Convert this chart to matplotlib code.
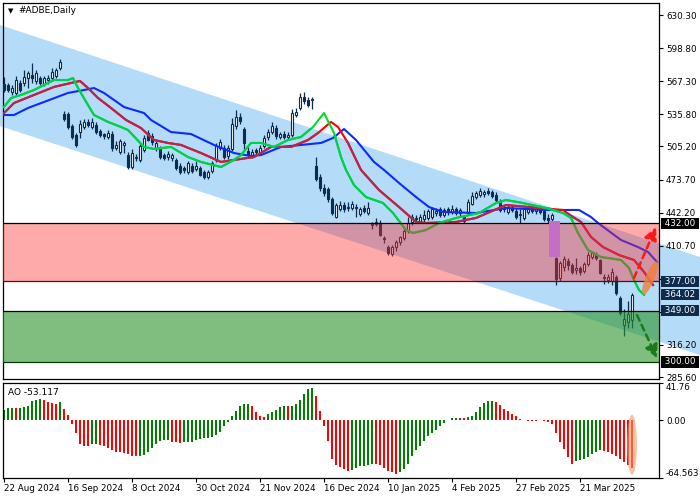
import matplotlib
matplotlib.use('Agg')
import matplotlib.pyplot as plt
import matplotlib.patches as mpatches
import matplotlib.transforms as mtransforms
import numpy as np

plt.rcParams['font.family'] = ['DejaVu Sans']

# daily candles, 22 Aug 2024 .. 9 Apr 2025
opens = [565, 564, 557, 556, 566, 566, 570, 573, 567, 570, 565, 568, 570, 572, 580,
         536, 536, 525, 516, 519, 524, 528, 524, 526, 520, 517, 514, 517, 504, 500,
         507, 497, 486, 494, 492, 502, 518, 515, 504, 504, 497, 495, 494, 492, 487,
         485, 481, 487, 484, 485, 481, 476, 482, 492, 504, 504, 496, 503, 525, 533,
         522, 501, 497, 502, 499, 506, 514, 519, 523, 514, 517, 514, 516, 535, 542,
         552, 549, 549, 487, 476, 466, 465, 455, 438, 446, 449, 447, 447, 448, 441,
         447, 442, 431, 433, 432, 418, 409, 403, 409, 414, 418, 425, 433, 436, 434,
         436, 437, 438, 442, 446, 440, 446, 443, 446, 442, 438, 442, 450, 457, 459,
         460, 463, 462, 459, 453, 446, 443, 447, 444, 440, 437, 443, 447, 444, 446,
         444, 437, 436, 399, 380, 390, 396, 392, 388, 389, 387, 393, 400, 403, 397,
         381, 378, 377, 381, 361, 335, 338, 340]
highs = [571, 566, 564, 572, 568, 578, 577, 585, 578, 572, 572, 573, 580, 580, 588,
         539, 538, 527, 518, 530, 531, 531, 532, 528, 522, 518, 521, 520, 510, 512,
         510, 500, 503, 498, 508, 516, 521, 518, 510, 506, 499, 501, 499, 494, 489,
         487, 491, 489, 491, 487, 483, 483, 491, 508, 512, 507, 507, 532, 540, 537,
         524, 505, 503, 504, 507, 516, 522, 528, 526, 519, 520, 519, 541, 542, 556,
         557, 552, 552, 495, 479, 469, 467, 457, 451, 453, 452, 452, 453, 450, 448,
         449, 452, 433, 437, 435, 420, 411, 411, 416, 420, 428, 438, 441, 440, 441,
         445, 446, 448, 447, 448, 447, 448, 449, 448, 447, 440, 455, 462, 463, 466,
         464, 466, 464, 462, 455, 449, 449, 449, 447, 446, 448, 449, 450, 448, 449,
         447, 441, 442, 400, 396, 401, 399, 394, 399, 391, 395, 405, 406, 405, 398,
         384, 384, 389, 383, 363, 350, 358, 366]
lows = [557, 557, 554, 554, 557, 563, 561, 566, 565, 564, 563, 565, 568, 570, 578,
        529, 522, 512, 505, 513, 522, 524, 522, 517, 514, 512, 512, 501, 502, 498,
        499, 484, 484, 491, 490, 500, 510, 507, 501, 493, 492, 492, 491, 483, 479,
        480, 479, 480, 482, 477, 474, 474, 480, 490, 502, 493, 493, 501, 522, 527,
        502, 495, 494, 497, 497, 504, 511, 517, 512, 512, 512, 512, 514, 533, 540,
        546, 543, 541, 472, 463, 458, 452, 440, 437, 444, 443, 444, 445, 438, 439,
        442, 440, 427, 429, 420, 413, 402, 401, 406, 411, 416, 423, 430, 432, 432,
        433, 435, 436, 439, 438, 438, 440, 441, 440, 439, 432, 440, 449, 455, 457,
        457, 459, 456, 452, 443, 443, 441, 443, 436, 432, 435, 441, 442, 441, 441,
        434, 432, 434, 373, 377, 387, 388, 384, 384, 383, 385, 391, 398, 397, 384,
        374, 375, 373, 364, 345, 325, 332, 332]
closes = [559, 559, 561, 568, 559, 571, 575, 570, 575, 566, 570, 570, 576, 578, 586,
          531, 524, 514, 507, 527, 528, 526, 528, 519, 516, 515, 518, 504, 507, 510,
          508, 486, 499, 495, 506, 513, 511, 509, 508, 495, 494, 498, 497, 485, 481,
          483, 489, 482, 487, 478, 476, 481, 489, 506, 509, 495, 504, 527, 533, 529,
          508, 498, 500, 500, 504, 513, 519, 525, 515, 517, 514, 516, 537, 538, 552,
          548, 545, 550, 474, 466, 461, 455, 442, 449, 449, 446, 448, 450, 447, 446,
          444, 447, 430, 431, 421, 417, 404, 409, 414, 419, 425, 432, 438, 437, 438,
          440, 444, 446, 444, 440, 445, 443, 446, 442, 445, 434, 452, 458, 461, 463,
          462, 461, 458, 454, 445, 447, 447, 445, 438, 441, 446, 447, 444, 446, 443,
          436, 435, 440, 379, 394, 398, 392, 386, 389, 386, 393, 402, 404, 399, 385,
          380, 381, 386, 366, 347, 341, 346, 364]

# Alligator lines (bar position, price)
jaw_x = [0, 2.5, 6, 10, 16, 20, 22.5, 25, 27.5, 30, 35, 36.75, 41.75, 46.75, 52.5, 57.5, 61.75, 64.25,
         69.25, 74.25, 79.25, 82.25, 85, 88, 92.5, 95, 98.75, 103, 106.25, 109.75, 118, 125.5, 135.5,
         143.75, 146.75, 148.5, 154.25, 158.5, 161, 163.25]
jaw_p = [535.1, 535.1, 541.8, 547.5, 556.1, 558.9, 560.8, 556.1, 549.4, 542.7, 537.0, 530.4, 518.9,
         517.0, 506.6, 498.9, 496.1, 497.0, 504.7, 506.6, 508.5, 513.2, 521.8, 511.3, 490.4, 482.8,
         470.4, 457.0, 447.5, 442.8, 441.8, 446.6, 444.7, 444.7, 438.0, 432.3, 416.1, 409.4, 404.7, 395.2]
teeth_x = [0, 2.5, 7.5, 12.5, 16.75, 19, 21, 23.5, 26.75, 30.5, 34.25, 37.5, 41, 44.25, 49.25, 54.25,
           57.5, 62.5, 66.75, 71.75, 76, 78.5, 81.75, 83.5, 86, 89.25, 93.75, 98.75, 103, 105.5, 113,
           118, 125.5, 131.25, 139.75, 142.25, 144.25, 146.75, 149.75, 153.75, 157.5, 160, 162.25]
teeth_p = [537.0, 546.5, 554.2, 561.8, 565.6, 567.5, 560.8, 551.3, 541.8, 530.4, 522.7, 511.3, 508.5,
           506.6, 498.9, 490.4, 492.3, 495.1, 504.7, 504.7, 511.3, 518.0, 528.5, 523.7, 508.5, 482.8,
           463.7, 447.5, 433.3, 432.3, 433.3, 437.1, 449.4, 447.5, 444.7, 438.0, 433.3, 419.0, 409.4,
           401.8, 397.1, 385.7, 373.3]
lips_x = [0, 1.75, 4.25, 7.5, 10, 12.5, 16, 17.25, 18.5, 21, 22.5, 26, 29.25, 31, 35, 37.5, 41.75, 46,
          49.25, 54.25, 57.5, 59.25, 61.75, 64.25, 67.5, 71, 74.25, 77.25, 80, 82.5, 84.25, 85.5, 87.5,
          90.5, 94.75, 97.25, 100.5, 102.25, 105.5, 108.75, 113, 118.75, 123, 125.5, 129.75, 135.5,
          139.75, 141.75, 143.5, 146, 149.25, 154.25, 156.25, 157.5, 158.75, 160]
lips_p = [542.7, 551.3, 554.2, 558.9, 563.7, 568.4, 568.4, 570.3, 560.8, 544.6, 535.1, 528.5, 523.7,
          520.8, 504.7, 502.8, 504.7, 495.1, 490.4, 485.6, 492.3, 497.0, 508.5, 508.5, 504.7, 511.3,
          514.2, 523.7, 537.0, 518.0, 495.1, 482.8, 468.4, 457.0, 451.3, 441.8, 425.6, 422.8, 425.6,
          432.3, 437.1, 441.8, 451.3, 454.2, 451.3, 446.6, 441.8, 437.1, 422.8, 406.6, 399.9, 397.1,
          389.5, 378.0, 368.5, 364.0]

# Awesome Oscillator
ao_vals = [11.9, 13.8, 13.9, 13.7, 13.8, 14.9, 16.4, 22.0, 23.1, 23.9, 22.4, 20.5, 19.4, 18.3, 20.1,
           13.1, 6.3, -4.1, -14.2, -26.1, -28.3, -29.1, -26.9, -26.1, -27.2, -28.3, -30.6, -32.8, -35.1, -35.4,
           -36.2, -38.0, -40.3, -40.4, -40.2, -38.8, -35.8, -30.6, -26.1, -23.5, -22.4, -22.3, -23.9, -24.6, -25.4,
           -24.6, -24.5, -24.4, -21.6, -20.5, -20.1, -20.0, -19.0, -16.0, -12.7, -6.7, -2.2, 5.2, 10.8, 16.4,
           18.3, 18.4, 16.4, 9.7, 4.5, 4.1, 7.1, 9.7, 11.9, 14.5, 16.4, 15.7, 16.5, 18.7, 23.1,
           29.5, 35.1, 36.2, 26.9, 10.8, -6.7, -23.5, -42.9, -49.6, -52.6, -54.5, -56.3, -55.2, -53.3, -51.5,
           -51.4, -50.4, -48.9, -49.0, -49.6, -53.3, -57.1, -57.8, -60.1, -58.2, -54.5, -48.9, -39.5, -33.6, -28.3,
           -23.5, -17.9, -14.2, -11.2, -6.7, -3.0, 0.7, 2.6, 2.7, 2.6, 2.5, 3.7, 5.2, 9.0, 14.9,
           19.4, 21.3, 22.0, 20.1, 17.5, 13.1, 10.1, 7.5, 4.5, 1.9, 0.7, -0.4, -0.7, -0.8, 0.4,
           -0.4, -1.5, -3.7, -14.2, -24.6, -32.1, -41.0, -48.5, -45.9, -44.8, -43.3, -41.0, -37.7, -35.4, -33.6,
           -33.9, -35.4, -37.3, -39.5, -43.3, -47.0, -50.4, -53.117]

date_ticks = [0, 16, 32, 48, 64, 80, 96, 112, 128, 144]
date_labels = ['22 Aug 2024', '16 Sep 2024', '8 Oct 2024', '30 Oct 2024', '21 Nov 2024',
               '16 Dec 2024', '10 Jan 2025', '4 Feb 2025', '27 Feb 2025', '21 Mar 2025']
price_ticks = [630.30, 598.80, 567.30, 535.80, 505.20, 473.70, 442.20, 410.70, 379.20, 347.70, 316.20, 285.60]
hidden_ticks = [379.20, 347.70]

# channel (bar, price) at both ends, zones and the gap box
chan_x = [-1, 174]
chan_top = [620.8, 399.9]
chan_bot = [524.6, 306.6]
resist_hi, resist_lo = 432.0, 377.0
support_hi, support_lo = 349.0, 300.0
gap_x0, gap_x1, gap_lo, gap_hi = 136.25, 139.0, 400.0, 434.2
up_arrow = [(157.5, 380.0), (163.0, 428.5)]
down_arrow = [(158.25, 344.7), (163.25, 303.7)]
price_boxes = [(432.00, '#000000'), (377.00, '#0c2b4d'), (364.02, '#0c2b4d'),
               (349.00, '#0c2b4d'), (300.00, '#000000')]

navy = '#0c2d4f'
fs = 6.3

fig = plt.figure(figsize=(7, 5), dpi=100)
ax = fig.add_axes([2.5 / 700, 1 - 379 / 500, 656.5 / 700, 376.5 / 500])
ao = fig.add_axes([2.5 / 700, 1 - 478 / 500, 656.5 / 700, 95 / 500])

x = np.arange(len(closes))
o = np.array(opens, float)
h = np.array(highs, float)
l = np.array(lows, float)
c = np.array(closes, float)
up = c >= o

# channel band (runs past the price scale like in the terminal)
band = mpatches.Polygon([(chan_x[0], chan_top[0]), (chan_x[1], chan_top[1]),
                         (chan_x[1], chan_bot[1]), (chan_x[0], chan_bot[0])],
                        closed=True, fc='#b4dbf8', ec='none', zorder=0.5, clip_on=False)
ax.add_patch(band)

# candles
ax.vlines(x, l, h, color=navy, lw=0.9, zorder=3)
ax.bar(x[up], np.maximum(c[up] - o[up], 0.4), bottom=o[up], width=0.5,
       facecolor='white', edgecolor=navy, lw=0.8, zorder=3.2)
ax.bar(x[~up], o[~up] - c[~up], bottom=c[~up], width=0.5,
       facecolor=navy, edgecolor=navy, lw=0.8, zorder=3.2)

# alligator
ax.plot(jaw_x, jaw_p, color='#0b2bff', lw=1.5, zorder=4)
ax.plot(teeth_x, teeth_p, color='#ff0000', lw=1.5, zorder=4.1)
tin, = ax.plot(teeth_x, teeth_p, color='#b02a50', lw=1.5, zorder=4.15)
tin.set_clip_path(band)
ax.plot(lips_x, lips_p, color='#00dd30', lw=1.5, zorder=4.2)
lin, = ax.plot(lips_x, lips_p, color='#00d050', lw=1.5, zorder=4.25)
lin.set_clip_path(band)

# zones
ax.axhspan(resist_lo, resist_hi, color='#ff2b2b', alpha=0.4, lw=0, zorder=5)
ax.axhspan(support_lo, support_hi, color='#2a942a', alpha=0.6, lw=0, zorder=5)
ax.axhline(resist_hi, color='black', lw=0.9, zorder=5.5)
ax.axhline(resist_lo, color='#5a0a1a', lw=0.9, zorder=5.5)
ax.axhline(support_hi, color='black', lw=0.9, zorder=5.5)
ax.axhline(support_lo, color='#0a3a0a', lw=0.9, zorder=5.5)

ax.add_patch(mpatches.Rectangle((gap_x0, gap_lo), gap_x1 - gap_x0, gap_hi - gap_lo,
                                fc='#c36ec8', ec='none', zorder=6))

# forecast arrows
for (p0, p1), col in [(up_arrow, '#ff1a1a'), (down_arrow, '#1b7a1b')]:
    ax.annotate('', xy=p1, xytext=p0, zorder=7,
                arrowprops=dict(arrowstyle='-|>,head_length=0.7,head_width=0.35', color=col,
                                lw=1.8, linestyle=(0, (2.5, 1.8)), mutation_scale=11,
                                shrinkA=0, shrinkB=0))


def ellipse(axis, cx, cy, w, hgt, ang, col, alpha, z):
    tr = fig.dpi_scale_trans + mtransforms.ScaledTranslation(cx, cy, axis.transData)
    axis.add_patch(mpatches.Ellipse((0, 0), w / 100, hgt / 100, angle=ang, transform=tr,
                                    fc=col, ec='none', alpha=alpha, zorder=z, clip_on=False))


ellipse(ax, 161.5, 380.0, 36, 9, 68, '#f0803c', 0.8, 7)

ax.set_xlim(-0.375, 163.75)
ax.set_ylim(283.8, 642.2)
ax.set_xticks([])
ax.yaxis.tick_right()
ax.set_yticks(price_ticks)
ax.set_yticklabels(['' if t in hidden_ticks else f'{t:.2f}' for t in price_ticks])
ax.tick_params(axis='y', length=3, width=0.8, pad=2, labelsize=fs)
for s in ax.spines.values():
    s.set_linewidth(0.9)

bt = mtransforms.blended_transform_factory(ax.transAxes, ax.transData)
for val, col in price_boxes:
    ax.text(1.0 + 3 / 656.5, val, f' {val:.2f} ', transform=bt, ha='left', va='center',
            fontsize=fs, color='white', zorder=8,
            bbox=dict(boxstyle='square,pad=0.12', fc=col, ec='none'))

ax.text(0.008, 0.978, '▼', transform=ax.transAxes, fontsize=5, va='center', ha='left')
ax.text(0.024, 0.978, '#ADBE,Daily', transform=ax.transAxes, fontsize=fs + 0.2, va='center', ha='left')

# AO panel
ao_arr = np.array(ao_vals)
cols = ['#008000' if i == 0 or ao_arr[i] > ao_arr[i - 1] else '#ff0000' for i in range(len(ao_arr))]
ao.bar(x, ao_arr, width=0.72, color=cols, lw=0, zorder=2)
ellipse(ao, x[-1], -27.4, 10, 60, 0, '#f59a66', 0.6, 3)
ao.set_xlim(-0.375, 163.75)
ao.set_ylim(-64.563, 41.76)
ao.yaxis.tick_right()
ao.set_yticks([41.76, 0.0, -64.563])
ao.set_yticklabels(['41.76', '0.00', '-64.563'])
ao.tick_params(axis='y', length=3, width=0.8, pad=2, labelsize=fs)
yl = ao.get_yticklabels()
yl[0].set_va('top')
yl[2].set_va('bottom')
ao.set_xticks(date_ticks)
ao.set_xticklabels(date_labels)
ao.tick_params(axis='x', length=3, width=0.8, pad=1.5, labelsize=fs)
for lbl in ao.get_xticklabels():
    lbl.set_ha('left')
for s in ao.spines.values():
    s.set_linewidth(0.9)
ao.text(0.008, 0.9, 'AO -53.117', transform=ao.transAxes, fontsize=fs + 0.2, va='center', ha='left')

fig.savefig('out.png', dpi=100)
